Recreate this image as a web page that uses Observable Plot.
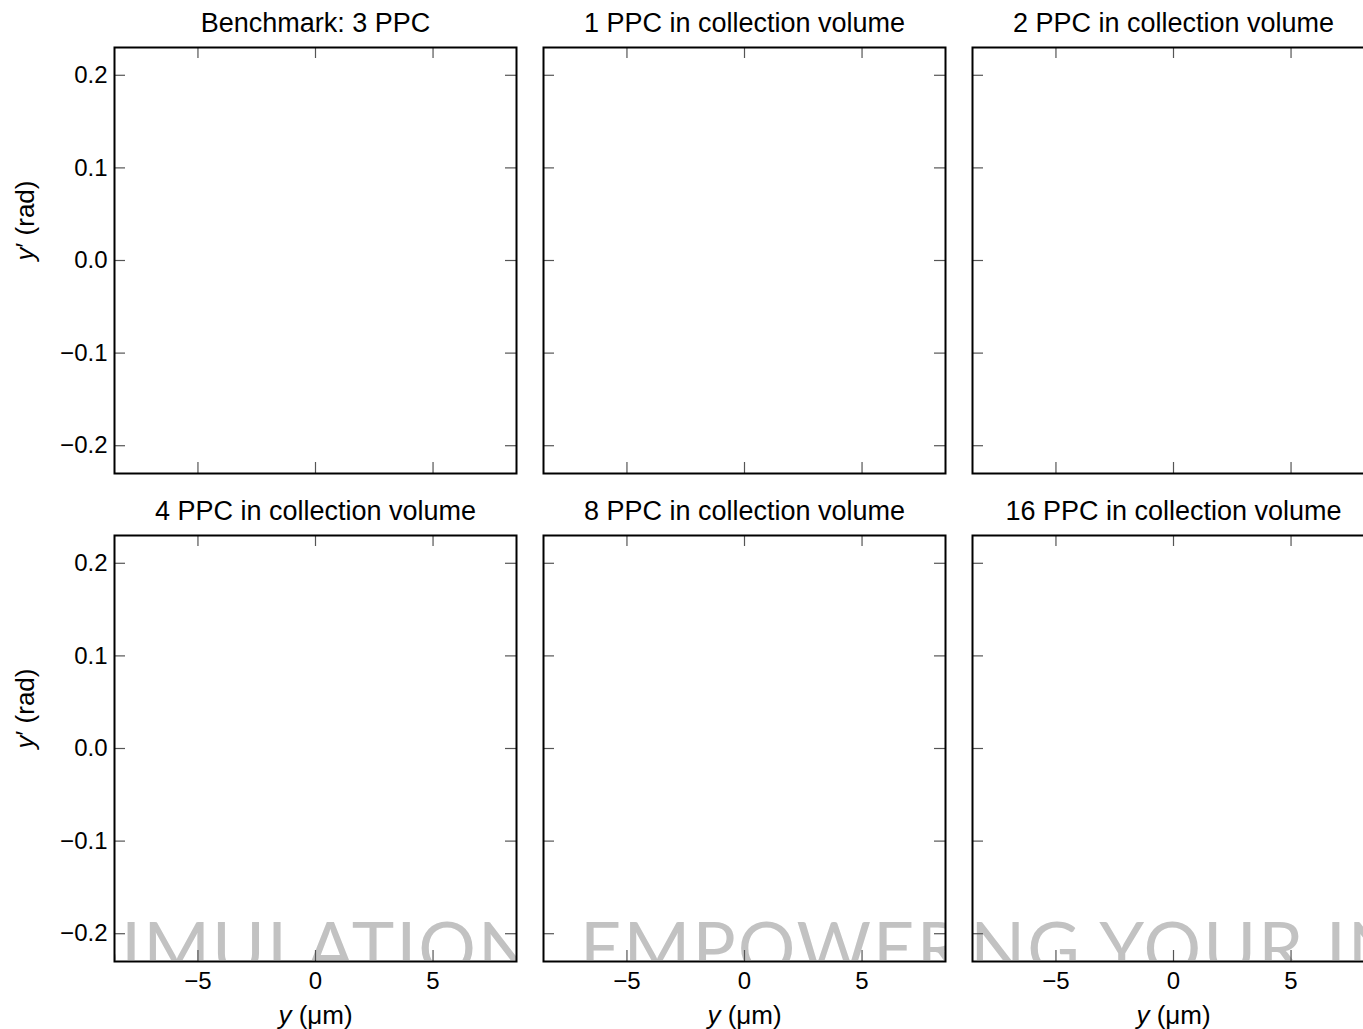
<!DOCTYPE html>
<html>
<head>
<meta charset="utf-8">
<script src="https://cdn.jsdelivr.net/npm/d3@7"></script>
<script src="https://cdn.jsdelivr.net/npm/@observablehq/plot@0.6"></script>
<style>
  html, body { margin: 0; padding: 0; background: #fff; }
  #wrap { position: relative; width: 1363px; height: 1029px; overflow: hidden; background: #fff; }
  #chart { position: absolute; left: 0; top: 0; width: 1380px; z-index: 2; }
  #chart svg { max-width: none !important; }
  .wm { position: absolute; top: 915px; height: 45px; overflow: hidden; pointer-events: none; z-index: 1; }
  .wm span { position: absolute; top: -5px; white-space: nowrap; font: 400 72px Lato, "DejaVu Sans", sans-serif;
             line-height: 72px; letter-spacing: 2px; color: #c2c2c2; }
</style>
</head>
<body>
<div id="wrap"><div id="chart"></div></div>
<script>
// ---- data ----
const panelTitles = [
  "Benchmark: 3 PPC",
  "1 PPC in collection volume",
  "2 PPC in collection volume",
  "4 PPC in collection volume",
  "8 PPC in collection volume",
  "16 PPC in collection volume"
];
const panelRow = [0, 0, 0, 1, 1, 1];
const panelCol = [0, 1, 2, 0, 1, 2];
const xDomain = [-8.55, 8.55];
const yDomain = [-0.23, 0.23];
const xTicks = [-5, 0, 5];
const yTicks = [-0.2, -0.1, 0.0, 0.1, 0.2];
const xLabel = "y (μm)";
const yLabel = "y′ (rad)";
// watermark pieces seen through the three bottom panels
const watermarkParts = ["SIMULATIONS", "EMPOWERING", "ING YOUR INNOVATION"];
const watermarkStart = [80, 580, 948];

// ---- layout ----
const W = 1380, H = 1029;
const ML = 114, MR = 6, MT = 47, MB = 68;
const colGap = 27, colBand = 402;
const rowGap = 62, rowBand = 426;
const tickLen = 11;

const panels = panelTitles.map((t, i) => ({title: t, row: panelRow[i], col: panelCol[i]}));
const fmtX = d3.format("d");
const fmtY = d3.format(".1f");
const tickStyle = {stroke: "#555", strokeWidth: 1.2};

const plot = Plot.plot({
  width: W, height: H,
  marginLeft: ML, marginRight: MR, marginTop: MT, marginBottom: MB,
  style: {fontFamily: "'Liberation Sans', Arial, sans-serif", background: "transparent", color: "#000", overflow: "visible", maxWidth: "none"},
  x: {domain: xDomain},
  y: {domain: yDomain},
  fx: {domain: [0, 1, 2], paddingInner: colGap / (colGap + colBand), paddingOuter: 0, round: false, axis: null},
  fy: {domain: [0, 1], paddingInner: rowGap / (rowGap + rowBand), paddingOuter: 0, round: false, axis: null},
  marks: [
    // inward ticks on all four sides
    Plot.tickX(xTicks, {x: d => d, insetTop: rowBand - tickLen, ...tickStyle}),
    Plot.tickX(xTicks, {x: d => d, insetBottom: rowBand - tickLen, ...tickStyle}),
    Plot.tickY(yTicks, {y: d => d, insetRight: colBand - tickLen, ...tickStyle}),
    Plot.tickY(yTicks, {y: d => d, insetLeft: colBand - tickLen, ...tickStyle}),
    Plot.frame({stroke: "#000", strokeWidth: 2}),
    Plot.axisX(xTicks, {tickSize: 0, tickPadding: 10, fontSize: 24, label: null, tickFormat: fmtX}),
    Plot.axisY(yTicks, {tickSize: 0, tickPadding: 7, fontSize: 24, label: null, tickFormat: fmtY}),
    Plot.text(panels, {fx: "col", fy: "row", text: "title", frameAnchor: "top", lineAnchor: "middle", dy: -24, fontSize: 27}),
    Plot.text(panels.filter(d => d.row === 1), {fx: "col", fy: "row", text: () => xLabel, frameAnchor: "bottom", lineAnchor: "middle", dy: 54, fontSize: 26}),
    Plot.text(panels.filter(d => d.col === 0), {fx: "col", fy: "row", text: () => yLabel, frameAnchor: "left", lineAnchor: "middle", rotate: -90, dx: -89, fontSize: 26})
  ]
});

// italic variable names in axis labels
d3.select(plot).selectAll("text").each(function () {
  const t = this.textContent;
  if (t === xLabel || t === yLabel) {
    const s = d3.select(this);
    s.text(null);
    s.append("tspan").attr("font-style", "italic").text(t[0]);
    s.append("tspan").text(t.slice(1));
  }
});

document.getElementById("chart").appendChild(plot);

// faint watermark behind the chart, visible only inside the bottom panels
const wrap = document.getElementById("wrap");
[0, 1, 2].forEach(c => {
  const left = ML + c * (colBand + colGap);
  const div = document.createElement("div");
  div.className = "wm";
  div.style.left = left + "px";
  div.style.width = colBand + "px";
  const span = document.createElement("span");
  span.textContent = watermarkParts[c];
  span.style.left = (watermarkStart[c] - left) + "px";
  div.appendChild(span);
  wrap.appendChild(div);
});
</script>
</body>
</html>
